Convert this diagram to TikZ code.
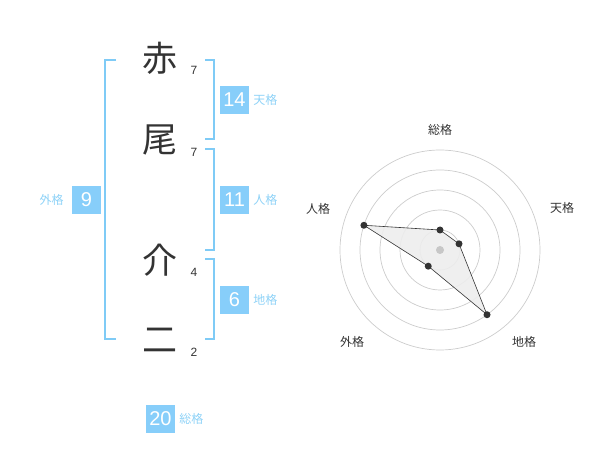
\documentclass[tikz,border=0pt]{standalone}
\usepackage{fontspec}
\setmainfont{Liberation Sans}
\newfontfamily\jpfont{Noto Sans CJK JP}
\usetikzlibrary{positioning,calc}

\definecolor{kakublue}{HTML}{87CEFA}
\definecolor{kakuline}{HTML}{7FCBF6}
\definecolor{kakutext}{HTML}{8ED2F7}
\definecolor{ink}{HTML}{333333}

\begin{document}
\begin{tikzpicture}[x=1pt, y=-1pt,
  kanji/.style={font=\jpfont\fontsize{35}{35}\selectfont, text=ink, inner sep=0pt},
  strokes/.style={font=\fontsize{12}{12}\selectfont, text=ink, inner sep=0pt},
  kakubox/.style={fill=kakublue, text=white, minimum width=29pt, minimum height=28pt,
    inner sep=0pt, font=\fontsize{20}{20}\selectfont},
  kakulabel/.style={text=kakutext, font=\jpfont\fontsize{12}{12}\selectfont, inner sep=0pt},
  bracket/.style={draw=kakuline, line width=1.6pt},
  ring/.style={draw=black!20, line width=0.7pt},
  axislabel/.style={text=ink, font=\jpfont\fontsize{12}{12}\selectfont, inner sep=0pt},
  dot/.style={circle, fill=ink, inner sep=0pt, minimum size=7pt}]

\useasboundingbox (0,0) rectangle (600,470);

% name and stroke counts
\foreach \k/\s/\y [count=\i] in {赤/7/58, 尾/7/140, 介/4/260, 二/2/340} {
  \node [kanji] (char-\i) at (160,\y) {\k};
  \node [strokes] (count-\i) at (194,\y+12) {\s};
}

% brackets
\draw [bracket] (116,60) -- (105,60) -- (105,339) -- (116,339);
\draw [bracket] (205,60) -- (214,60) -- (214,139) -- (205,139);
\draw [bracket] (205,149) -- (214,149) -- (214,250) -- (205,250);
\draw [bracket] (205,259) -- (214,259) -- (214,339) -- (205,339);

% kaku boxes
\node [kakubox] (ten) at (234.5,100) {14};
\node [kakulabel, right=4pt of ten] (ten-l) {天格};
\node [kakubox] (jin) at (234.5,200) {11};
\node [kakulabel, right=4pt of jin] (jin-l) {人格};
\node [kakubox] (chi) at (234.5,300) {6};
\node [kakulabel, right=4pt of chi] (chi-l) {地格};
\node [kakubox] (gai) at (86.5,200) {9};
\node [kakulabel, left=8pt of gai] (gai-l) {外格};
\node [kakubox] (sou) at (160.5,419) {20};
\node [kakulabel, right=4pt of sou] (sou-l) {総格};

% radar chart
\coordinate (center) at (440,250);
\foreach \r in {20,40,...,100}
  \draw [ring] (center) circle (\r);

\foreach \a/\r [count=\i] in {-90/20, -18/20, 54/80, 126/20, 198/80}
  \coordinate (p-\i) at ($(center)+(\a:\r)$);

\draw [ink, line width=0.6pt, fill=black!7, fill opacity=0.9]
  (p-1) -- (p-2) -- (p-3) -- (p-4) -- (p-5) -- cycle;

\node [circle, fill=black!22, inner sep=0pt, minimum size=8pt] (mid) at (center) {};
\foreach \i in {1,...,5}
  \node [dot] (dot-\i) at (p-\i) {};

\foreach \l/\x/\y [count=\i] in {総格/440/130, 天格/562/208, 地格/524/342, 外格/352/342, 人格/318/209}
  \node [axislabel] (axis-\i) at (\x,\y) {\l};

\end{tikzpicture}
\end{document}
